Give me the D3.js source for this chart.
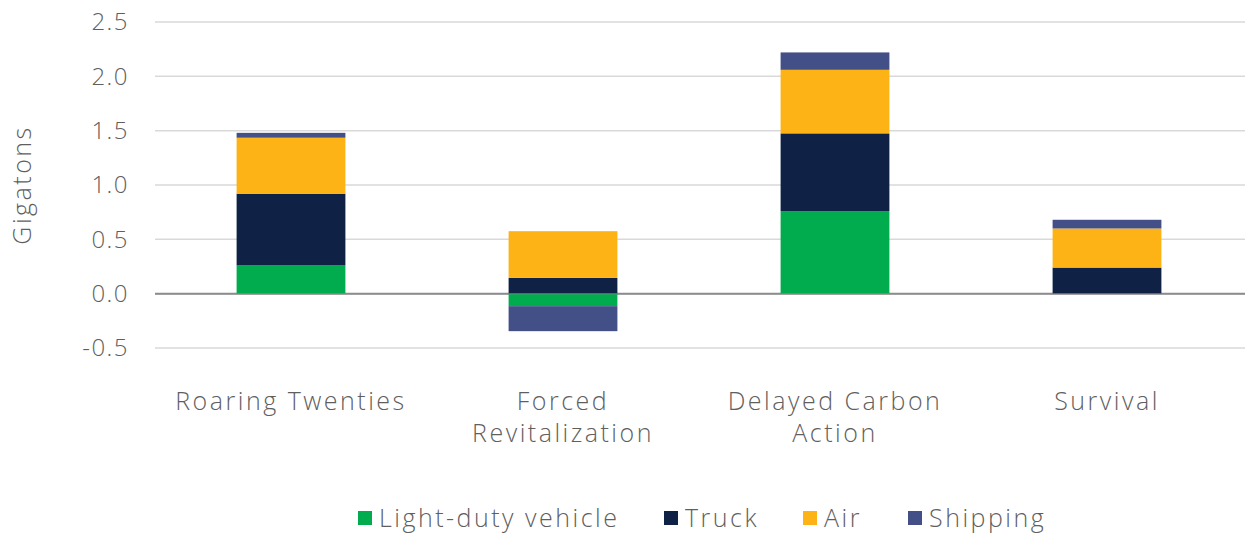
<!DOCTYPE html>
<html>
<head>
<meta charset="utf-8">
<script src="https://cdn.jsdelivr.net/npm/d3@7"></script>
<style>
  body { margin: 0; background: #fff; }
  text { font-family: "Open Sans", "Noto Sans", sans-serif; font-weight: 300; fill: #5f5f5f; }
  .wide { letter-spacing: 2.5px; }
</style>
</head>
<body>
<div id="viz"></div>
<script>
const categories = ["Roaring Twenties", "Forced Revitalization", "Delayed Carbon Action", "Survival"];
const categoryLines = [["Roaring Twenties"], ["Forced", "Revitalization"], ["Delayed Carbon", "Action"], ["Survival"]];
const seriesNames = ["Light-duty vehicle", "Truck", "Air", "Shipping"];
const lightDuty = [0.26, -0.115, 0.76, 0.0];
const truck = [0.66, 0.145, 0.715, 0.24];
const air = [0.515, 0.43, 0.585, 0.36];
const shipping = [0.045, -0.23, 0.16, 0.08];
const yTicks = [-0.5, 0.0, 0.5, 1.0, 1.5, 2.0, 2.5];
const colors = ["#00ac4e", "#0f2145", "#fdb316", "#434f87"];

const width = 1248, height = 535;
const margin = {left: 155, right: 5, top: 22, bottom: 188};

const svg = d3.select("#viz").append("svg")
  .attr("width", width)
  .attr("height", height);

const rows = categories.map((c, i) => ({
  cat: c,
  "Light-duty vehicle": lightDuty[i],
  "Truck": truck[i],
  "Air": air[i],
  "Shipping": shipping[i]
}));

const stacked = d3.stack()
  .keys(seriesNames)
  .offset(d3.stackOffsetDiverging)(rows);

const x = d3.scaleBand()
  .domain(categories)
  .range([margin.left, width - margin.right])
  .paddingInner(0.6)
  .paddingOuter(0.3);

const y = d3.scaleLinear()
  .domain([-0.5, 2.5])
  .range([height - margin.bottom + 1, margin.top]);

// gridlines
svg.append("g")
  .selectAll("line")
  .data(yTicks)
  .join("line")
  .attr("x1", margin.left)
  .attr("x2", width - 3)
  .attr("y1", d => y(d))
  .attr("y2", d => y(d))
  .attr("stroke", d => d === 0 ? "#8c8c8c" : "#d9d9d9")
  .attr("stroke-width", d => d === 0 ? 2 : 1.5);

// y axis labels
const fmt = d => d3.format(".1f")(d).replace("−", "-");
svg.append("g")
  .selectAll("text")
  .data(yTicks)
  .join("text")
  .attr("x", 129)
  .attr("y", d => y(d))
  .attr("dy", "0.35em")
  .attr("text-anchor", "end")
  .style("font-size", "24px")
  .style("letter-spacing", "1.5px")
  .text(fmt);

svg.append("text")
  .attr("class", "wide")
  .attr("transform", "translate(31," + y(1.0) + ") rotate(-90)")
  .attr("text-anchor", "middle")
  .style("font-size", "25px")
  .text("Gigatons");

// bars
svg.append("g")
  .selectAll("g")
  .data(stacked)
  .join("g")
  .attr("fill", (d, i) => colors[i])
  .selectAll("rect")
  .data(d => d)
  .join("rect")
  .attr("x", d => x(d.data.cat))
  .attr("width", x.bandwidth())
  .attr("y", d => y(Math.max(d[0], d[1])))
  .attr("height", d => Math.abs(y(d[0]) - y(d[1])));

// zero line over bars
svg.append("line")
  .attr("x1", margin.left)
  .attr("x2", width - 3)
  .attr("y1", y(0))
  .attr("y2", y(0))
  .attr("stroke", "#8c8c8c")
  .attr("stroke-width", 1.5)
  .attr("opacity", 0.5);

// category labels
const catG = svg.append("g")
  .selectAll("text")
  .data(categories)
  .join("text")
  .attr("class", "wide")
  .attr("x", d => x(d) + x.bandwidth() / 2)
  .attr("y", 410)
  .attr("text-anchor", "middle")
  .style("font-size", "25px");

catG.selectAll("tspan")
  .data((d, i) => categoryLines[i])
  .join("tspan")
  .attr("x", function() { return d3.select(this.parentNode).attr("x"); })
  .attr("dy", (d, i) => i === 0 ? 0 : 32)
  .text(d => d);

// legend
const legendX = [358, 664, 803, 908];
const legend = svg.append("g")
  .selectAll("g")
  .data(seriesNames)
  .join("g")
  .attr("transform", (d, i) => "translate(" + legendX[i] + ",518)");

legend.append("rect")
  .attr("y", -7)
  .attr("width", 14)
  .attr("height", 14)
  .attr("fill", (d, i) => colors[i]);

legend.append("text")
  .attr("class", "wide")
  .attr("x", 21)
  .attr("dy", "0.36em")
  .style("font-size", "25px")
  .text(d => d);
</script>
</body>
</html>
